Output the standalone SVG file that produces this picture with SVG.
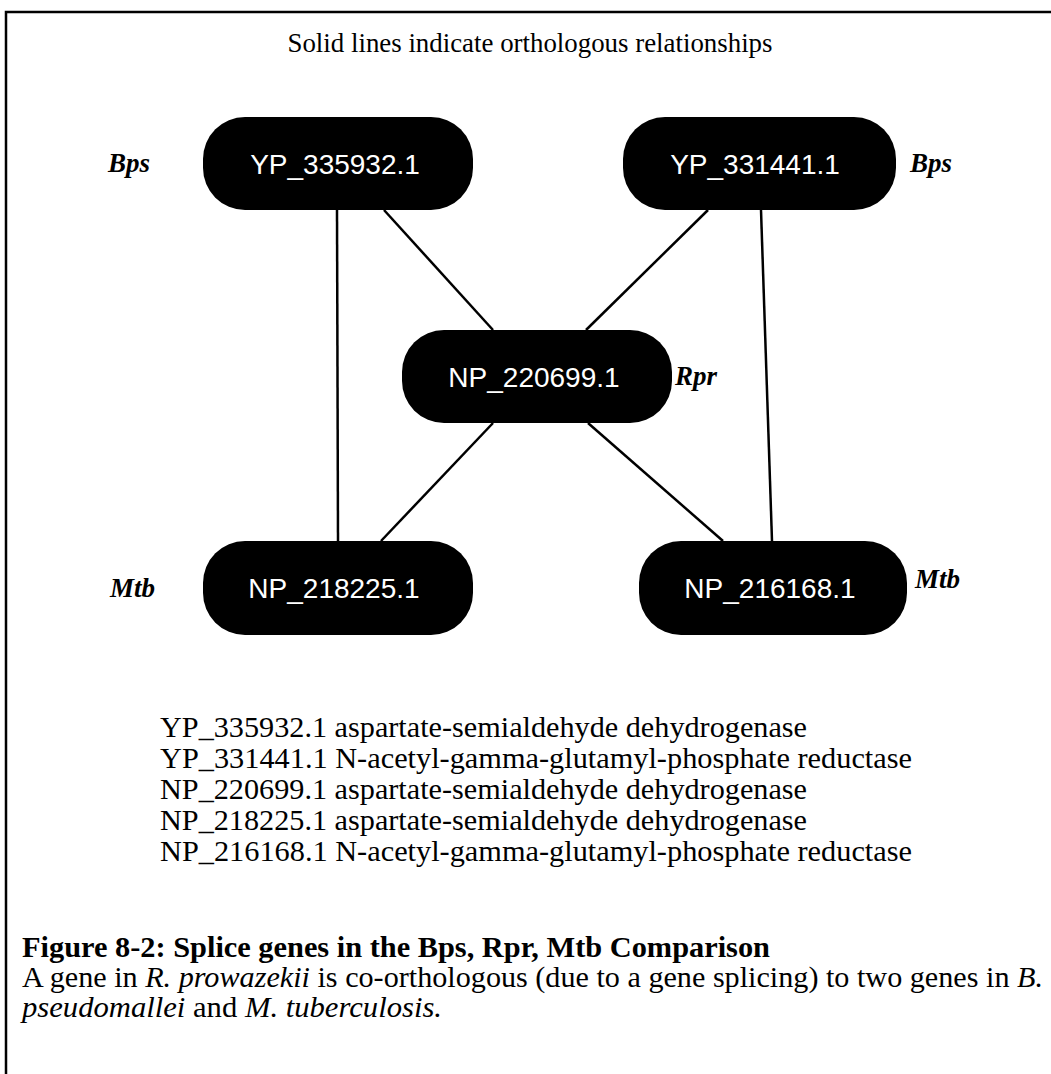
<svg xmlns="http://www.w3.org/2000/svg" width="1051" height="1074" viewBox="0 0 1051 1074">
  <style>
    .frame { stroke: #000; stroke-width: 2.5; fill: none; }
    .node rect { fill: #000; }
    .node text { fill: #fff; font-family: "Liberation Sans", Arial, sans-serif; font-size: 28px; text-anchor: middle; }
    .edge { stroke: #000; stroke-width: 2.5; fill: none; }
    .species { font-family: "Liberation Serif", "Times New Roman", serif; font-size: 27px; font-weight: bold; font-style: italic; fill: #000; }
    .serif { font-family: "Liberation Serif", "Times New Roman", serif; fill: #000; }
    .it { font-style: italic; }
  </style>

  <rect width="1051" height="1074" fill="#fff"/>

  <!-- page frame: top and left rules -->
  <path class="frame" d="M6 1074 V12 H1051"/>

  <!-- heading -->
  <text class="serif" x="530" y="52" font-size="27" text-anchor="middle" textLength="485" lengthAdjust="spacingAndGlyphs">Solid lines indicate orthologous relationships</text>

  <!-- orthology connectors -->
  <g id="connectors">
    <line class="edge" x1="337" y1="210" x2="338" y2="541"/>
    <line class="edge" x1="384" y1="210" x2="493" y2="330"/>
    <line class="edge" x1="708" y1="210" x2="586" y2="330"/>
    <line class="edge" x1="761" y1="210" x2="772" y2="541"/>
    <line class="edge" x1="493" y1="423" x2="381" y2="541"/>
    <line class="edge" x1="588" y1="423" x2="723" y2="541"/>
  </g>

  <!-- gene nodes -->
  <g id="yp335932" class="node">
    <rect x="203" y="117" width="270" height="93" rx="42" ry="42"/>
    <text x="335" y="174">YP_335932.1</text>
  </g>
  <g id="yp331441" class="node">
    <rect x="623" y="117" width="273" height="93" rx="42" ry="42"/>
    <text x="755" y="174">YP_331441.1</text>
  </g>
  <g id="np220699" class="node">
    <rect x="402" y="330" width="270" height="93" rx="42" ry="42"/>
    <text x="534" y="387">NP_220699.1</text>
  </g>
  <g id="np218225" class="node">
    <rect x="203" y="541" width="270" height="94" rx="42" ry="42"/>
    <text x="334" y="598">NP_218225.1</text>
  </g>
  <g id="np216168" class="node">
    <rect x="639" y="541" width="268" height="94" rx="42" ry="42"/>
    <text x="770" y="598">NP_216168.1</text>
  </g>

  <!-- organism labels -->
  <text class="species" x="108" y="172">Bps</text>
  <text class="species" x="910" y="172">Bps</text>
  <text class="species" x="675" y="385">Rpr</text>
  <text class="species" x="110" y="597">Mtb</text>
  <text class="species" x="915" y="588">Mtb</text>

  <!-- gene annotations -->
  <g class="serif" font-size="30">
    <text x="160" y="737" textLength="647" lengthAdjust="spacingAndGlyphs">YP_335932.1 aspartate-semialdehyde dehydrogenase</text>
    <text x="160" y="768" textLength="752" lengthAdjust="spacingAndGlyphs">YP_331441.1 N-acetyl-gamma-glutamyl-phosphate reductase</text>
    <text x="160" y="799" textLength="647" lengthAdjust="spacingAndGlyphs">NP_220699.1 aspartate-semialdehyde dehydrogenase</text>
    <text x="160" y="830" textLength="647" lengthAdjust="spacingAndGlyphs">NP_218225.1 aspartate-semialdehyde dehydrogenase</text>
    <text x="160" y="861" textLength="752" lengthAdjust="spacingAndGlyphs">NP_216168.1 N-acetyl-gamma-glutamyl-phosphate reductase</text>
  </g>

  <!-- figure caption -->
  <g class="serif" font-size="29">
    <text x="22" y="957" font-weight="bold" textLength="748" lengthAdjust="spacingAndGlyphs">Figure 8-2: Splice genes in the Bps, Rpr, Mtb Comparison</text>
    <text x="22" y="987" textLength="1021" lengthAdjust="spacingAndGlyphs">A gene in <tspan class="it">R. prowazekii</tspan> is co-orthologous (due to a gene splicing) to two genes in <tspan class="it">B.</tspan></text>
    <text x="22" y="1017" textLength="420" lengthAdjust="spacingAndGlyphs"><tspan class="it">pseudomallei</tspan> and <tspan class="it">M. tuberculosis.</tspan></text>
  </g>
</svg>
